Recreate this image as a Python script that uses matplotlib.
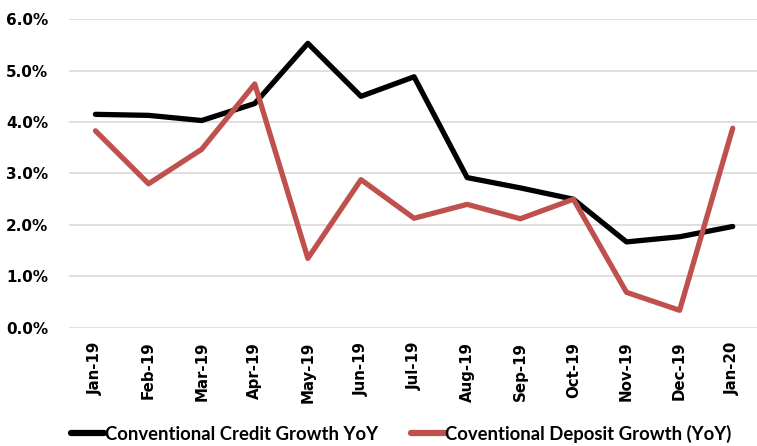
import matplotlib
matplotlib.use("Agg")
import matplotlib.pyplot as plt
from matplotlib.ticker import FuncFormatter

months = ["Jan-19", "Feb-19", "Mar-19", "Apr-19", "May-19", "Jun-19", "Jul-19",
          "Aug-19", "Sep-19", "Oct-19", "Nov-19", "Dec-19", "Jan-20"]
credit = [4.15, 4.13, 4.03, 4.36, 5.53, 4.50, 4.88, 2.92, 2.72, 2.50, 1.67, 1.77, 1.97]
deposit = [3.83, 2.80, 3.47, 4.74, 1.35, 2.88, 2.13, 2.40, 2.12, 2.50, 0.69, 0.34, 3.88]

plt.rcParams['font.family'] = ['DejaVu Sans']

fig = plt.figure(figsize=(7.57, 4.46), dpi=100)
ax = fig.add_axes([0.091, 0.265, 0.912, 0.692])

x = list(range(len(months)))
ax.plot(x, credit, color="black", lw=3.8, solid_capstyle="round",
        label="Conventional Credit Growth YoY")
ax.plot(x, deposit, color="#C0504D", lw=3.8, solid_capstyle="round",
        label="Coventional Deposit Growth (YoY)")

ax.set_ylim(0, 6)
ax.set_xlim(-0.5, 12.5)
ax.set_yticks([0, 1, 2, 3, 4, 5, 6])
ax.yaxis.set_major_formatter(FuncFormatter(lambda v, p: "%.1f%%" % v))
ax.set_xticks(x)
ax.set_xticklabels(months, rotation=90, fontweight="bold", fontsize=10.8)
for lab in ax.get_yticklabels():
    lab.set_fontweight("bold")
    lab.set_fontsize(11)
ax.tick_params(length=0, pad=10)
ax.tick_params(axis="y", pad=15)
ax.grid(axis="y", color="#D9D9D9", lw=1.2)
ax.set_axisbelow(True)
for s in ax.spines.values():
    s.set_visible(False)

leg = fig.legend(loc="lower center", bbox_to_anchor=(0.53, -0.03), ncol=2,
                 frameon=False, prop={"family": "Lato", "weight": "bold", "size": 13.3},
                 handlelength=1.8, handletextpad=0.05, columnspacing=1.8)
for h in leg.get_lines():
    h.set_linewidth(4.5)

fig.savefig("out.png", dpi=100)
